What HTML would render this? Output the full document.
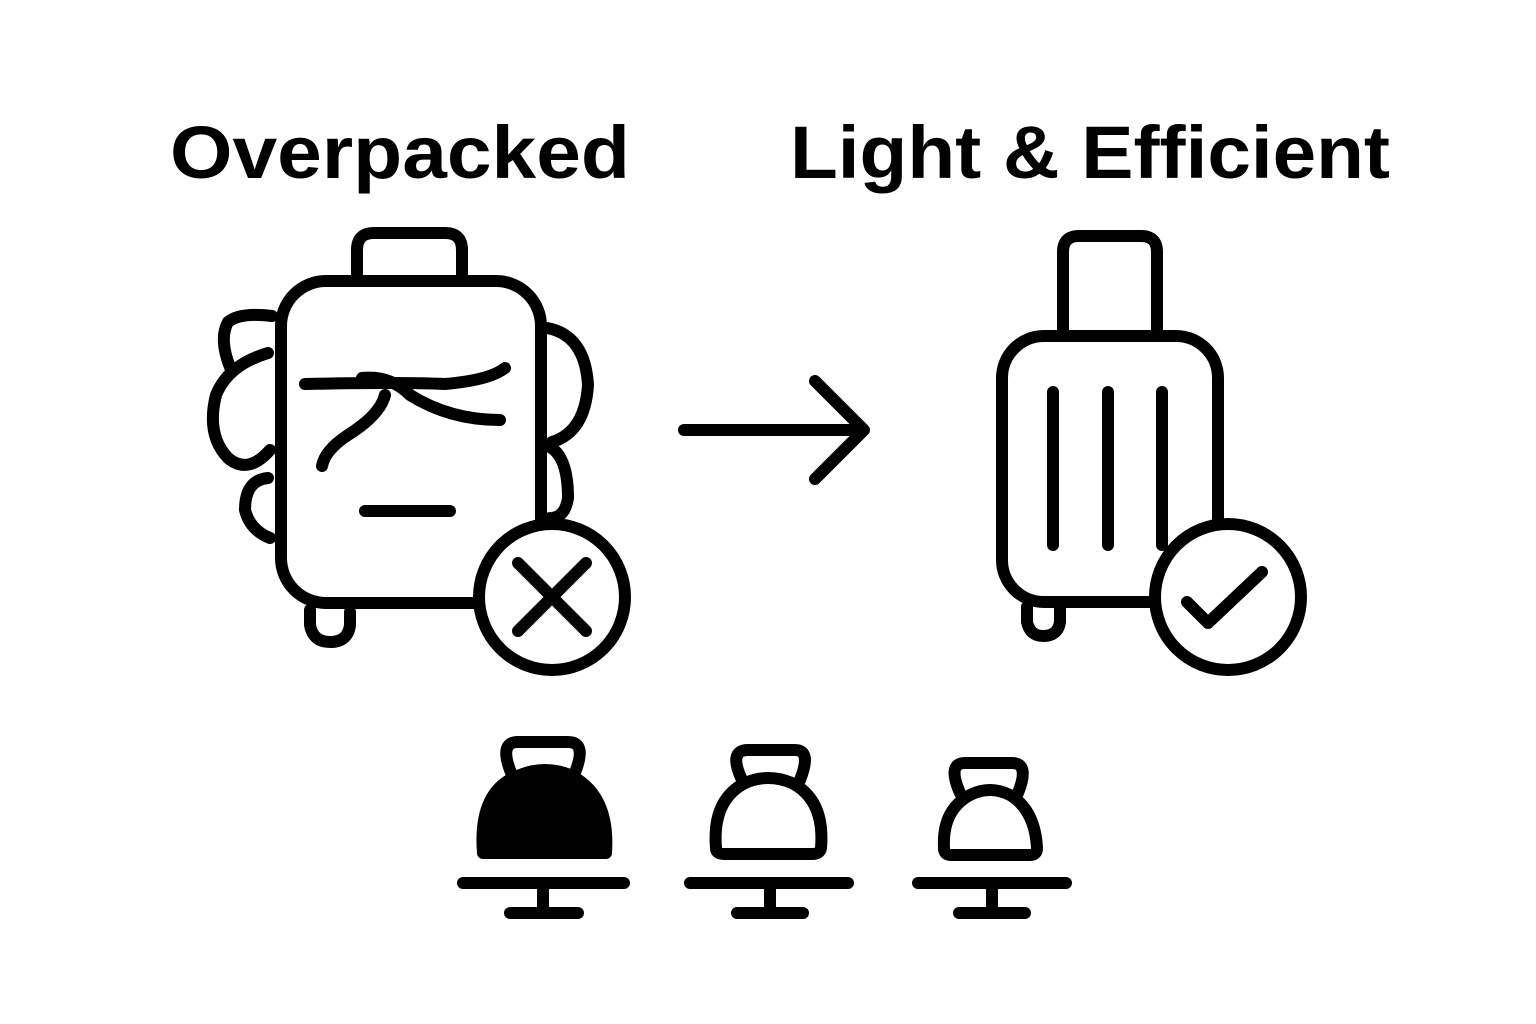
<!DOCTYPE html>
<html><head><style>
html,body{margin:0;padding:0;background:#fff;}
svg{display:block;}
text{font-family:"Liberation Sans",sans-serif;font-weight:bold;fill:#000;}
</style></head><body>
<svg width="1536" height="1024" viewBox="0 0 1536 1024" xmlns="http://www.w3.org/2000/svg">
<rect width="1536" height="1024" fill="#fff"/>
<text x="170" y="178" font-size="74" textLength="460" lengthAdjust="spacingAndGlyphs">Overpacked</text>
<text x="790" y="178" font-size="74" textLength="600" lengthAdjust="spacingAndGlyphs">Light &amp; Efficient</text>
<g fill="none" stroke="#000" stroke-width="12" stroke-linecap="round" stroke-linejoin="round">
<!-- left suitcase -->
<path d="M357 278 V250 Q357 233 374 233 H445 Q462 233 462 250 V278"/>
<rect x="281" y="281" width="260" height="322" rx="45"/>
<path d="M272 316 Q240 312 228 322 Q218 340 232 372"/>
<path d="M268 353 Q228 365 216 395 Q206 435 228 458 Q248 475 270 450"/>
<path d="M268 478 Q245 480 245 510 Q250 530 270 538"/>
<path d="M547 328 Q585 335 588 385 Q585 432 552 442"/>
<path d="M548 446 Q568 455 568 498 Q565 518 550 518"/>
<path d="M310 610 V625 Q313 642 330 642 Q348 642 350 625 V612"/>
<path d="M305 384 Q400 382 445 384 Q490 380 505 368"/>
<path d="M362 378 Q390 375 410 395 Q450 420 500 420"/>
<path d="M322 466 Q325 450 348 435 Q380 415 385 395"/>
<path d="M365 511 H450"/>
<circle cx="552" cy="597" r="73" fill="#fff"/>
<path d="M518 563 L586 631 M586 563 L518 631"/>
<!-- arrow -->
<path d="M684 430 H864 M815 381 L864 430 L815 479"/>
<!-- right suitcase -->
<path d="M1063 332 V252 Q1063 236 1079 236 H1141 Q1157 236 1157 252 V332"/>
<rect x="1002" y="336" width="216" height="266" rx="42"/>
<path d="M1053 392 V545 M1108 392 V545 M1162 392 V545"/>
<path d="M1027 607 V622 Q1030 636 1043 636 Q1058 636 1060 622 V607"/>
<circle cx="1228" cy="597" r="73" fill="#fff"/>
<path d="M1187 602 L1208 623 L1262 572"/>
<!-- weights -->
<path d="M512 775 Q498 742 518 742 H568 Q588 742 574 775"/>
<path d="M483 853 Q478 790 520 775 Q545 765 570 775 Q610 795 606 853 Z" fill="#000"/>
<path d="M463 883 H624 M543 888 V908 M510 913 H578"/>
<path d="M742 780 Q728 750 748 750 H795 Q812 750 800 780"/>
<path d="M716 848 Q712 800 745 783 Q768 773 792 783 Q825 800 821 848 Q820 854 812 854 H724 Q716 854 716 848 Z"/>
<path d="M690 883 H848 M770 888 V908 M737 913 H803"/>
<path d="M960 793 Q947 763 965 763 H1012 Q1030 763 1018 793"/>
<path d="M944 848 Q942 810 970 795 Q990 785 1010 795 Q1035 810 1037 848 Q1037 855 1030 855 H951 Q944 855 944 848 Z"/>
<path d="M918 883 H1066 M992 888 V908 M959 913 H1025"/>
</g>
</svg>
</body></html>
